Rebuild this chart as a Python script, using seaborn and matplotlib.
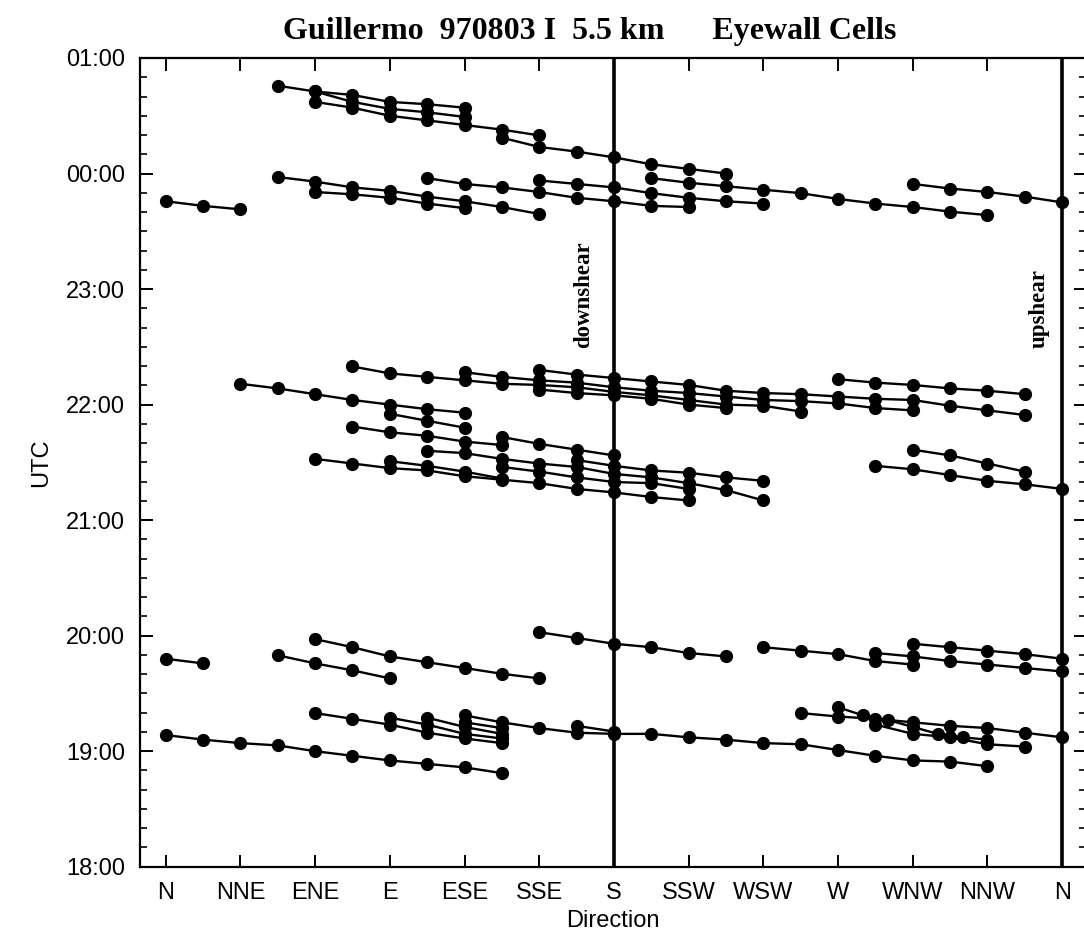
import matplotlib
matplotlib.use("Agg")
import pandas as pd
import matplotlib.pyplot as plt
import seaborn as sns
from matplotlib.ticker import MultipleLocator

# %%
# axis categories
dir_ticks = [0, 30, 60, 90, 120, 150, 180, 210, 240, 270, 300, 330, 360]
dir_labels = ["N", "NNE", "ENE", "E", "ESE", "SSE", "S",
              "SSW", "WSW", "W", "WNW", "NNW", "N"]
hour_ticks = [18, 19, 20, 21, 22, 23, 24, 25]
hour_labels = ["18:00", "19:00", "20:00", "21:00", "22:00", "23:00", "00:00", "01:00"]

# cells: (first direction in deg, UTC in hours at each 15 deg step), 24+ = next day
cells_0030 = [
    (45, [24.76, 24.71, 24.68, 24.62, 24.60, 24.57]),
    (60, [24.71, 24.62, 24.56, 24.53, 24.49]),
    (60, [24.62, 24.57, 24.50, 24.46, 24.42, 24.38, 24.33]),
    (135, [24.31, 24.23, 24.19, 24.14, 24.08, 24.04, 24.00]),
]
cells_0000 = [
    (0, [23.76, 23.72, 23.69]),
    (45, [23.97, 23.93, 23.88, 23.85, 23.80, 23.76, 23.71, 23.65]),
    (60, [23.84, 23.82, 23.79, 23.74, 23.70]),
    (105, [23.96, 23.91, 23.88, 23.84, 23.79, 23.76, 23.72, 23.71]),
    (150, [23.94, 23.91, 23.88, 23.83, 23.79, 23.76, 23.74]),
    (195, [23.96, 23.92, 23.89, 23.86, 23.83, 23.78, 23.74, 23.71, 23.67, 23.64]),
    (300, [23.91, 23.87, 23.84, 23.80, 23.75]),
]
cells_2200 = [
    (30, [22.18, 22.14, 22.09, 22.04, 22.00, 21.96, 21.93]),
    (90, [21.92, 21.86, 21.80]),
    (75, [22.33, 22.27, 22.24, 22.21, 22.18, 22.17, 22.15, 22.11, 22.08,
          22.04, 22.00, 21.99, 21.94]),
    (120, [22.28, 22.24, 22.21, 22.19, 22.15, 22.12, 22.10, 22.07, 22.04,
           22.03, 22.01, 21.97, 21.95]),
    (150, [22.30, 22.26, 22.23, 22.20, 22.17, 22.12, 22.10, 22.09, 22.07,
           22.05, 22.04, 21.99, 21.95, 21.91]),
    (150, [22.13, 22.10, 22.08, 22.05, 22.00, 21.97]),
    (270, [22.22, 22.19, 22.17, 22.14, 22.12, 22.09]),
]
cells_2130 = [
    (75, [21.81, 21.76, 21.73, 21.68, 21.65]),
    (135, [21.72, 21.66, 21.61, 21.56]),
    (105, [21.60, 21.58, 21.53, 21.49, 21.46, 21.40, 21.37, 21.32, 21.26, 21.17]),
    (165, [21.52, 21.47, 21.43, 21.41, 21.37, 21.34]),
    (135, [21.46, 21.42, 21.37, 21.33, 21.32, 21.27]),
    (90, [21.51, 21.47, 21.42, 21.36]),
    (60, [21.53, 21.49, 21.45, 21.43, 21.38, 21.35, 21.32, 21.27, 21.24, 21.20, 21.17]),
    (300, [21.61, 21.56, 21.49, 21.42]),
    (285, [21.47, 21.44, 21.39, 21.34, 21.31, 21.27]),
]
cells_2000 = [
    (0, [19.80, 19.76]),
    (45, [19.83, 19.76, 19.70, 19.63]),
    (60, [19.97, 19.90, 19.82, 19.77, 19.72, 19.67, 19.63]),
    (150, [20.03, 19.98, 19.93, 19.90, 19.85, 19.82]),
    (240, [19.90, 19.87, 19.84, 19.78, 19.75]),
    (285, [19.85, 19.82, 19.78, 19.75, 19.72, 19.69]),
    (300, [19.93, 19.90, 19.87, 19.84, 19.80]),
]
cells_1900 = [
    (0, [19.14, 19.10, 19.07, 19.05, 19.00, 18.96, 18.92, 18.89, 18.86, 18.81]),
    (60, [19.33, 19.28, 19.23, 19.16, 19.11, 19.07]),
    (90, [19.29, 19.23, 19.15, 19.11]),
    (105, [19.29, 19.21, 19.15]),
    (120, [19.25, 19.20]),
    (120, [19.31, 19.25, 19.20, 19.16, 19.15, 19.15, 19.12, 19.10, 19.07, 19.06,
           19.01, 18.96, 18.92, 18.91, 18.87]),
    (165, [19.22, 19.17]),
    (255, [19.33, 19.30, 19.28, 19.25, 19.22, 19.20, 19.16, 19.12]),
    (285, [19.23, 19.15, 19.12, 19.06, 19.04]),
]
# one cell sampled every 10 deg
odd_dirs = [270, 280, 290, 300, 310, 320, 330]
odd_utc = [19.38, 19.31, 19.27, 19.21, 19.15, 19.12, 19.10]

# %%
rows = []
groups = [cells_0030, cells_0000, cells_2200, cells_2130, cells_2000, cells_1900]
for g, group in enumerate(groups):
    for k, (start, times) in enumerate(group):
        for i, t in enumerate(times):
            rows.append((f"{g}-{k}", start + 15 * i, t))
for d, t in zip(odd_dirs, odd_utc):
    rows.append(("odd", d, t))
df = pd.DataFrame(rows, columns=["cell", "direction", "utc"])

# %%
sns.set_style("ticks")
plt.rcParams["font.family"] = ["Liberation Sans", "DejaVu Sans"]
plt.rcParams["text.color"] = "black"
plt.rcParams["axes.labelcolor"] = "black"
plt.rcParams["xtick.color"] = "black"
plt.rcParams["ytick.color"] = "black"

fig = plt.figure(figsize=(10.84, 9.46), dpi=100)
ax = fig.add_axes([0.1292, 0.0838, 0.8727, 0.8549])

sns.lineplot(data=df, x="direction", y="utc", units="cell", estimator=None,
             sort=False, color="black", marker="o", markersize=8.5,
             markeredgewidth=1, markeredgecolor="black", linewidth=1.7,
             legend=False, ax=ax)

ax.axvline(180, color="black", lw=2.6)
ax.axvline(360, color="black", lw=2.6)

serif = dict(fontfamily="Liberation Serif", fontweight="bold")
ax.text(168, 22.49, "downshear", rotation=90, ha="center", va="bottom",
        fontsize=16.5, **serif)
ax.text(350.7, 22.49, "upshear", rotation=90, ha="center", va="bottom",
        fontsize=16.5, **serif)

ax.set_xlim(-10.3, 369.6)
ax.set_ylim(18, 25)
ax.set_xticks(dir_ticks)
ax.set_xticklabels(dir_labels)
ax.set_yticks(hour_ticks)
ax.set_yticklabels(hour_labels)
ax.yaxis.set_minor_locator(MultipleLocator(1 / 6))

ax.tick_params(axis="both", which="major", direction="in", top=True, right=True,
               length=9, width=1.4, labelsize=17, pad=11, color="black",
               labelcolor="black")
ax.tick_params(axis="y", which="minor", direction="in", left=True, right=True,
               length=5, width=1.2)
for s in ax.spines.values():
    s.set_linewidth(1.6)
    s.set_color("black")

ax.set_xlabel("Direction", fontsize=17, labelpad=4, color="black")
ax.set_ylabel("UTC", fontsize=17, labelpad=10, color="black")

fig.text(590 / 1084, 1 - 31 / 946, "Guillermo  970803 I  5.5 km      Eyewall Cells",
         ha="center", va="center", fontsize=23, color="black", **serif)

fig.savefig("out.png", dpi=100)
